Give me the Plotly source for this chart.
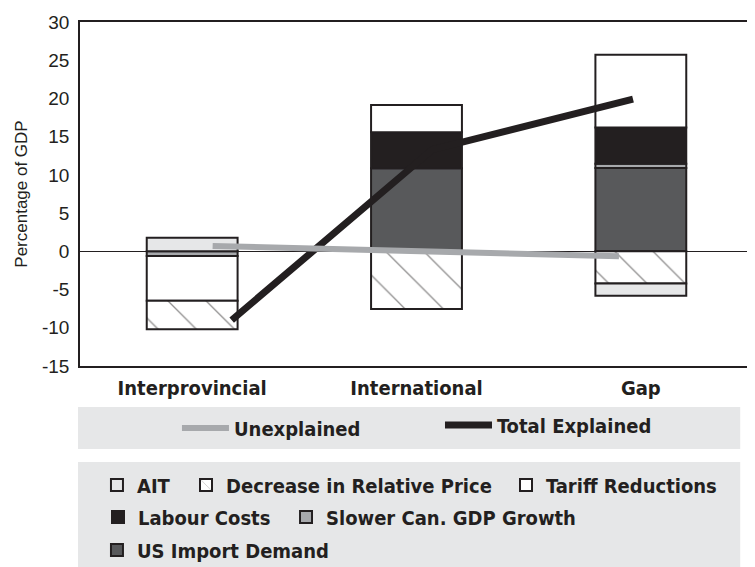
"""Stacked contribution bars with explained / unexplained lines."""

import plotly.graph_objects as go

categories = ["Interprovincial", "International", "Gap"]

# bar components, percentage of GDP (None = no segment)
us_import = [None, 10.86, 10.9]
slower_gdp = [-0.6, None, 0.55]
labour = [None, 4.71, 4.75]
tariff = [-5.85, 3.56, 9.5]
rel_price = [-3.75, -7.55, -4.2]
ait = [1.78, None, -1.6]

# lines
unexplained = [0.7, 0.0, -0.65]
total_explained = [-9.0, 13.3, 19.9]

y_ticks = [-15, -10, -5, 0, 5, 10, 15, 20, 25, 30]

INK = "#231f20"
BOLD = "DejaVu Sans Condensed"
REG = "Liberation Sans"

fig = go.Figure()


def add_bar(name, values, color, legend, pattern=None):
    fig.add_trace(
        go.Bar(
            name=name,
            x=categories,
            y=values,
            width=0.405,
            marker=dict(color=color, line=dict(color=INK, width=2), pattern=pattern),
            legend=legend,
        )
    )


# trace order sets stacking order (positives and negatives stacked separately)
add_bar("US Import Demand", us_import, "#58595b", "legend8")
add_bar("Slower Can. GDP Growth", slower_gdp, "#a7a9ac", "legend7")
add_bar("Labour Costs", labour, INK, "legend6")
add_bar("Tariff Reductions", tariff, "white", "legend5")
add_bar(
    "Decrease in Relative Price",
    rel_price,
    "white",
    "legend4",
    pattern=dict(shape="\\", size=27, solidity=0.05, fgcolor=INK, bgcolor="white"),
)
add_bar("AIT", ait, "#e6e7e8", "legend3")

fig.add_trace(
    go.Scatter(
        name="Unexplained",
        x=categories,
        y=unexplained,
        mode="lines",
        line=dict(color="#a7a9ac", width=6),
        xaxis="x3",
        legend="legend",
    )
)
fig.add_trace(
    go.Scatter(
        name="Total Explained",
        x=categories,
        y=total_explained,
        mode="lines",
        line=dict(color=INK, width=7),
        xaxis="x2",
        legend="legend2",
    )
)

legend_font = dict(family=BOLD, size=20, color=INK, weight="bold")


def item_legend(x, y, itemwidth=30):
    return dict(
        orientation="h",
        xref="container",
        yref="container",
        x=x,
        xanchor="left",
        y=y,
        yanchor="middle",
        bgcolor="rgba(0,0,0,0)",
        font=legend_font,
        itemwidth=itemwidth,
    )


fig.update_layout(
    width=747,
    height=559,
    margin=dict(l=72, r=2, t=14, b=201, autoexpand=False),
    barmode="relative",
    showlegend=True,
    paper_bgcolor="white",
    plot_bgcolor="white",
    font=dict(family=REG, size=19, color=INK),
    xaxis=dict(
        type="category",
        range=[-0.5, 2.5],
        showline=True,
        mirror=True,
        linecolor=INK,
        linewidth=1.5,
        ticks="",
        showgrid=False,
        ticklabelstandoff=3,
        tickfont=dict(family=BOLD, size=20, color=INK, weight="bold"),
    ),
    xaxis2=dict(type="category", overlaying="x", range=[-0.756, 2.598], visible=False),
    xaxis3=dict(type="category", overlaying="x", range=[-0.653, 2.66], visible=False),
    yaxis=dict(
        range=[-15, 30],
        tickvals=y_ticks,
        ticktext=[str(v) for v in y_ticks],
        showline=True,
        mirror=True,
        linecolor=INK,
        linewidth=1.5,
        ticks="",
        showgrid=False,
        ticklabelstandoff=5,
        zeroline=True,
        zerolinecolor=INK,
        zerolinewidth=1,
        title=dict(text="Percentage of GDP", font=dict(size=17), standoff=10),
    ),
    legend=item_legend(0.2262, 0.2487, itemwidth=47),
    legend2=item_legend(0.5783, 0.2540, itemwidth=47),
    legend3=item_legend(0.1191, 0.1467),
    legend4=item_legend(0.2383, 0.1467),
    legend5=item_legend(0.6667, 0.1467),
    legend6=item_legend(0.1205, 0.0894),
    legend7=item_legend(0.3722, 0.0894),
    legend8=item_legend(0.1191, 0.0304),
    shapes=[
        dict(type="rect", xref="paper", yref="paper", x0=-0.003, x1=0.981,
             y0=-0.119, y1=-0.241, fillcolor="#e6e7e8", line_width=0, layer="below"),
        dict(type="rect", xref="paper", yref="paper", x0=-0.003, x1=0.981,
             y0=-0.279, y1=-0.584, fillcolor="#e6e7e8", line_width=0, layer="below"),
    ],
)

fig.write_html("out.html")
